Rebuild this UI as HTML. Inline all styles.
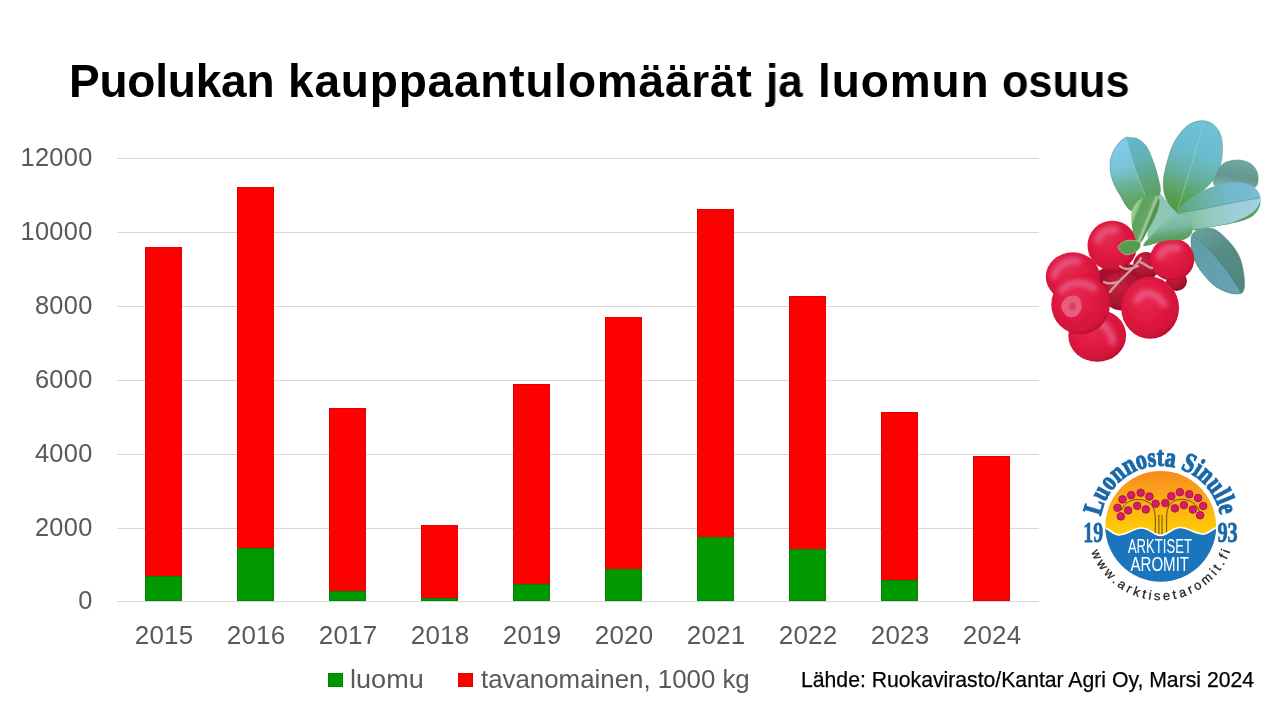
<!DOCTYPE html>
<html><head><meta charset="utf-8"><title>Puolukan kauppaantulomäärät ja luomun osuus</title>
<style>
html,body{margin:0;padding:0;background:#fff;}
body{width:1280px;height:720px;position:relative;overflow:hidden;font-family:"Liberation Sans",sans-serif;}
.abs{position:absolute;}
.yl,.xl,.leg,#src,#title span,svg.abs{will-change:transform;}
#title{position:absolute;left:0;top:53px;font-weight:bold;font-size:46px;line-height:56px;color:#000;white-space:nowrap;}
#title span{position:absolute;top:0;transform-origin:0 0;}
.grid{position:absolute;left:117px;width:922px;height:1.5px;background:#d9d9d9;}
.yl{position:absolute;left:0;width:92.6px;text-align:right;font-size:25.4px;line-height:28px;color:#595959;letter-spacing:0.3px;}
.xl{position:absolute;width:92px;text-align:center;font-size:26px;line-height:28px;color:#595959;top:620.5px;letter-spacing:0.2px;text-indent:0.2px;}
.red{position:absolute;background:#ff0000;width:37px;box-shadow:inset 0 0 0 0.6px rgba(150,0,0,0.55);}
.grn{position:absolute;background:#009900;width:37px;box-shadow:inset 0 0 0 0.6px rgba(0,80,0,0.5);}
.leg{position:absolute;transform-origin:0 0;font-size:25px;line-height:28px;color:#595959;white-space:nowrap;}
#src{position:absolute;left:801px;top:666px;-webkit-text-stroke:0.25px #000;font-size:21.2px;line-height:28px;color:#000;white-space:nowrap;transform-origin:0 0;}
</style></head><body>
<div id="title"><span style="left:69.2px;letter-spacing:-0.218px">Puolukan</span><span style="left:288.4px;letter-spacing:0.819px">kauppaantulomäärät</span><span style="left:766px;transform:scaleX(0.957)">ja</span><span style="left:817.6px;letter-spacing:0.884px">luomun</span><span style="left:1001.5px;transform:scaleX(0.941)">osuus</span></div>

<div class="grid" style="top:157.5px"></div>
<div class="yl" style="top:143.15px">12000</div>
<div class="grid" style="top:231.5px"></div>
<div class="yl" style="top:217.15px">10000</div>
<div class="grid" style="top:305.5px"></div>
<div class="yl" style="top:291.15px">8000</div>
<div class="grid" style="top:379.5px"></div>
<div class="yl" style="top:365.15px">6000</div>
<div class="grid" style="top:453.5px"></div>
<div class="yl" style="top:439.15px">4000</div>
<div class="grid" style="top:527.5px"></div>
<div class="yl" style="top:513.15px">2000</div>
<div class="grid" style="top:600.75px"></div>
<div class="yl" style="top:586.4px">0</div>
<div class="red" style="left:145px;top:247px;height:354px"></div>
<div class="grn" style="left:145px;top:576px;height:25px"></div>
<div class="xl" style="left:117.5px">2015</div>
<div class="red" style="left:237px;top:187px;height:414px"></div>
<div class="grn" style="left:237px;top:547.5px;height:53.5px"></div>
<div class="xl" style="left:209.5px">2016</div>
<div class="red" style="left:329px;top:408px;height:193px"></div>
<div class="grn" style="left:329px;top:590.5px;height:10.5px"></div>
<div class="xl" style="left:301.5px">2017</div>
<div class="red" style="left:421px;top:525px;height:76px"></div>
<div class="grn" style="left:421px;top:597.5px;height:3.5px"></div>
<div class="xl" style="left:393.5px">2018</div>
<div class="red" style="left:513px;top:384px;height:217px"></div>
<div class="grn" style="left:513px;top:583.75px;height:17.25px"></div>
<div class="xl" style="left:485.5px">2019</div>
<div class="red" style="left:605px;top:317px;height:284px"></div>
<div class="grn" style="left:605px;top:568.75px;height:32.25px"></div>
<div class="xl" style="left:577.5px">2020</div>
<div class="red" style="left:697px;top:209px;height:392px"></div>
<div class="grn" style="left:697px;top:537px;height:64px"></div>
<div class="xl" style="left:669.5px">2021</div>
<div class="red" style="left:789px;top:296px;height:305px"></div>
<div class="grn" style="left:789px;top:548.75px;height:52.25px"></div>
<div class="xl" style="left:761.5px">2022</div>
<div class="red" style="left:881px;top:412px;height:189px"></div>
<div class="grn" style="left:881px;top:580px;height:21px"></div>
<div class="xl" style="left:853.5px">2023</div>
<div class="red" style="left:973px;top:456px;height:145px"></div>
<div class="xl" style="left:945.5px">2024</div>
<div class="grn" style="left:328px;top:672.5px;width:15px;height:14.5px"></div>
<div class="leg" style="left:350.2px;top:665px;transform:scaleX(1.083)">luomu</div>
<div class="red" style="left:458px;top:672.5px;width:15px;height:14.5px"></div>
<div class="leg" style="left:481px;top:665px;transform:scaleX(1.034)">tavanomainen, 1000 kg</div>
<div id="src">Lähde: Ruokavirasto/Kantar Agri Oy, Marsi 2024</div>
<svg class="abs" style="left:1030px;top:110px" width="250" height="260" viewBox="1030 110 250 260">
<defs>
<filter id="bl" x="-5%" y="-5%" width="110%" height="110%"><feGaussianBlur stdDeviation="0.55"/></filter>
<filter id="bl2" x="-150%" y="-150%" width="400%" height="400%"><feGaussianBlur stdDeviation="2.6"/></filter>
<radialGradient id="rb" cx="0.42" cy="0.38" r="0.68"><stop offset="0" stop-color="#e8284e"/><stop offset="0.55" stop-color="#de1840"/><stop offset="0.85" stop-color="#cf1238"/><stop offset="1" stop-color="#b00c2c"/></radialGradient>
<radialGradient id="rd" cx="0.4" cy="0.35" r="0.7"><stop offset="0" stop-color="#cc2040"/><stop offset="1" stop-color="#960d28"/></radialGradient>
<linearGradient id="g1a" gradientUnits="userSpaceOnUse" x1="1130" y1="138" x2="1150" y2="206"><stop offset="0" stop-color="#62b6ce"/><stop offset="0.3" stop-color="#64b2b6"/><stop offset="0.6" stop-color="#5fa884"/><stop offset="1" stop-color="#55a050"/></linearGradient>
<linearGradient id="g1b" gradientUnits="userSpaceOnUse" x1="1116" y1="145" x2="1128" y2="205"><stop offset="0" stop-color="#80cbea"/><stop offset="0.4" stop-color="#7ac3d6"/><stop offset="0.75" stop-color="#68ae88"/><stop offset="1" stop-color="#5ea45e"/></linearGradient>
<linearGradient id="g2" gradientUnits="userSpaceOnUse" x1="1205" y1="122" x2="1175" y2="210"><stop offset="0" stop-color="#70c0d8"/><stop offset="0.35" stop-color="#6abccc"/><stop offset="0.6" stop-color="#66b09e"/><stop offset="0.82" stop-color="#5aa25c"/><stop offset="1" stop-color="#54963e"/></linearGradient>
<linearGradient id="g2b" gradientUnits="userSpaceOnUse" x1="1180" y1="150" x2="1215" y2="175"><stop offset="0" stop-color="#6ab4b0"/><stop offset="1" stop-color="#72bacc"/></linearGradient>
<linearGradient id="g3" gradientUnits="userSpaceOnUse" x1="1240" y1="160" x2="1235" y2="188"><stop offset="0" stop-color="#72aaa4"/><stop offset="0.6" stop-color="#64968e"/><stop offset="1" stop-color="#78aeaa"/></linearGradient>
<linearGradient id="g4a" gradientUnits="userSpaceOnUse" x1="1180" y1="205" x2="1258" y2="192"><stop offset="0" stop-color="#5ea878"/><stop offset="0.3" stop-color="#6ab2a6"/><stop offset="0.6" stop-color="#72b8c6"/><stop offset="1" stop-color="#7abcd8"/></linearGradient>
<linearGradient id="g4b" gradientUnits="userSpaceOnUse" x1="1180" y1="220" x2="1260" y2="205"><stop offset="0" stop-color="#7cba8c"/><stop offset="0.3" stop-color="#90c8b8"/><stop offset="0.65" stop-color="#9cced6"/><stop offset="1" stop-color="#a2d0e2"/></linearGradient>
<linearGradient id="g5a" gradientUnits="userSpaceOnUse" x1="1195" y1="235" x2="1240" y2="290"><stop offset="0" stop-color="#5f9ea6"/><stop offset="1" stop-color="#66a2b4"/></linearGradient>
<linearGradient id="g5b" gradientUnits="userSpaceOnUse" x1="1200" y1="230" x2="1245" y2="285"><stop offset="0" stop-color="#66a09e"/><stop offset="0.4" stop-color="#588c86"/><stop offset="1" stop-color="#50867e"/></linearGradient>
<linearGradient id="g6" gradientUnits="userSpaceOnUse" x1="1134" y1="215" x2="1156" y2="224"><stop offset="0" stop-color="#9cc890"/><stop offset="0.12" stop-color="#5fa25e"/><stop offset="0.5" stop-color="#64a664"/><stop offset="0.62" stop-color="#a6d09c"/><stop offset="0.72" stop-color="#4f9050"/><stop offset="0.9" stop-color="#589858"/><stop offset="1" stop-color="#a0cc94"/></linearGradient>
<linearGradient id="g7" gradientUnits="userSpaceOnUse" x1="1172" y1="214" x2="1176" y2="243"><stop offset="0" stop-color="#8cc4b6"/><stop offset="0.45" stop-color="#7ab8a2"/><stop offset="0.78" stop-color="#5fa066"/><stop offset="0.93" stop-color="#5a9c5c"/><stop offset="1" stop-color="#b4d2a4"/></linearGradient>
<clipPath id="c1"><path d="M1124.2,138.3 C1121.7,140.1 1117.4,144.1 1115.0,148.3 C1112.6,152.5 1110.4,158.0 1110.0,163.3 C1109.6,168.6 1110.8,174.7 1112.5,180.0 C1114.2,185.3 1116.8,189.9 1120.0,195.0 C1123.2,200.1 1127.0,209.5 1131.7,210.8 C1136.4,212.1 1143.3,205.9 1148.0,203.0 C1152.7,200.1 1158.3,197.4 1160.0,193.3 C1161.7,189.2 1159.4,183.6 1158.3,178.3 C1157.2,173.0 1155.2,167.0 1153.3,161.7 C1151.4,156.4 1149.2,150.4 1146.7,146.7 C1144.2,142.9 1141.1,140.7 1138.3,139.2 C1135.5,137.7 1132.3,137.7 1130.0,137.5 C1127.7,137.3 1126.7,136.5 1124.2,138.3 Z"/></clipPath>
<clipPath id="c4"><path d="M1176.7,212.5 C1177.2,209.2 1183.0,204.0 1188.3,200.0 C1193.6,196.0 1201.1,191.2 1208.3,188.3 C1215.5,185.4 1224.8,183.1 1231.7,182.5 C1238.7,181.9 1245.4,183.2 1250.0,185.0 C1254.6,186.8 1257.5,190.0 1259.2,193.3 C1260.9,196.6 1261.2,201.1 1260.0,205.0 C1258.8,208.9 1256.4,213.6 1251.7,216.7 C1247.0,219.8 1238.9,221.5 1231.7,223.3 C1224.5,225.1 1214.7,226.4 1208.3,227.5 C1201.9,228.6 1197.2,231.2 1193.3,230.0 C1189.4,228.8 1187.8,222.9 1185.0,220.0 C1182.2,217.1 1176.2,215.8 1176.7,212.5 Z"/></clipPath>
<clipPath id="c5"><path d="M1191.1,238.0 C1191.8,233.3 1194.3,231.5 1198.0,230.0 C1201.7,228.5 1208.3,226.8 1213.5,228.8 C1218.7,230.8 1225.0,237.2 1229.4,242.0 C1233.8,246.8 1237.4,251.6 1239.9,257.8 C1242.4,264.0 1244.0,273.3 1244.4,279.0 C1244.9,284.7 1244.7,289.8 1242.6,292.2 C1240.5,294.6 1236.4,294.4 1232.0,293.5 C1227.6,292.6 1221.0,290.2 1216.2,286.9 C1211.4,283.6 1206.8,278.5 1203.0,273.7 C1199.2,268.9 1195.7,263.9 1193.7,258.0 C1191.7,252.1 1190.4,242.7 1191.1,238.0 Z"/></clipPath>
<clipPath id="c2"><path d="M1176.7,211.7 C1173.8,210.0 1168.0,203.3 1165.8,198.3 C1163.6,193.3 1163.1,187.5 1163.3,181.7 C1163.5,175.9 1164.9,169.8 1166.7,163.3 C1168.5,156.8 1170.7,148.7 1174.0,142.5 C1177.3,136.3 1182.2,129.9 1186.5,126.3 C1190.8,122.7 1195.8,121.3 1200.0,120.8 C1204.2,120.3 1208.4,121.2 1211.7,123.3 C1215.0,125.4 1218.2,129.1 1220.0,133.3 C1221.8,137.5 1222.5,142.7 1222.5,148.3 C1222.5,153.9 1221.8,161.1 1220.0,166.7 C1218.2,172.3 1215.3,177.0 1211.7,181.7 C1208.1,186.4 1203.0,190.6 1198.3,195.0 C1193.6,199.4 1186.9,205.5 1183.3,208.3 C1179.7,211.1 1179.6,213.4 1176.7,211.7 Z"/></clipPath>
</defs>
<g filter="url(#bl)">
<path d="M1213.3,183.3 C1212.8,179.5 1217.8,168.9 1221.7,165.0 C1225.6,161.1 1232.0,160.3 1236.7,160.0 C1241.4,159.7 1246.5,161.1 1250.0,163.3 C1253.5,165.5 1256.5,169.4 1257.5,173.3 C1258.5,177.2 1258.7,184.4 1255.8,186.7 C1252.9,189.0 1245.1,186.8 1240.0,187.0 C1234.9,187.2 1229.5,188.6 1225.0,188.0 C1220.5,187.4 1213.8,187.1 1213.3,183.3 Z" fill="url(#g3)"/>
<path d="M1213.3,183.3 C1212.8,179.5 1217.8,168.9 1221.7,165.0 C1225.6,161.1 1232.0,160.3 1236.7,160.0 C1241.4,159.7 1246.5,161.1 1250.0,163.3 C1253.5,165.5 1256.5,169.4 1257.5,173.3 C1258.5,177.2 1258.7,184.4 1255.8,186.7 C1252.9,189.0 1245.1,186.8 1240.0,187.0 C1234.9,187.2 1229.5,188.6 1225.0,188.0 C1220.5,187.4 1213.8,187.1 1213.3,183.3 Z" fill="none" stroke="#3f8058" stroke-width="0.9" opacity="0.45"/>
<path d="M1158.0,195.0 C1160.7,191.3 1162.7,197.2 1166.0,200.0 C1169.3,202.8 1176.3,207.3 1178.0,212.0 C1179.7,216.7 1179.0,224.0 1176.0,228.0 C1173.0,232.0 1164.7,234.3 1160.0,236.0 C1155.3,237.7 1149.7,240.3 1148.0,238.0 C1146.3,235.7 1148.3,229.2 1150.0,222.0 C1151.7,214.8 1155.3,198.7 1158.0,195.0 Z" fill="#90c6b4"/>
<path d="M1191.1,238.0 C1191.8,233.3 1194.3,231.5 1198.0,230.0 C1201.7,228.5 1208.3,226.8 1213.5,228.8 C1218.7,230.8 1225.0,237.2 1229.4,242.0 C1233.8,246.8 1237.4,251.6 1239.9,257.8 C1242.4,264.0 1244.0,273.3 1244.4,279.0 C1244.9,284.7 1244.7,289.8 1242.6,292.2 C1240.5,294.6 1236.4,294.4 1232.0,293.5 C1227.6,292.6 1221.0,290.2 1216.2,286.9 C1211.4,283.6 1206.8,278.5 1203.0,273.7 C1199.2,268.9 1195.7,263.9 1193.7,258.0 C1191.7,252.1 1190.4,242.7 1191.1,238.0 Z" fill="url(#g5b)"/>
<path clip-path="url(#c5)" d="M1192,234 C1210,248 1228,270 1241,293 L1225,300 L1185,275 Z" fill="url(#g5a)"/>
<path d="M1191.1,238.0 C1191.8,233.3 1194.3,231.5 1198.0,230.0 C1201.7,228.5 1208.3,226.8 1213.5,228.8 C1218.7,230.8 1225.0,237.2 1229.4,242.0 C1233.8,246.8 1237.4,251.6 1239.9,257.8 C1242.4,264.0 1244.0,273.3 1244.4,279.0 C1244.9,284.7 1244.7,289.8 1242.6,292.2 C1240.5,294.6 1236.4,294.4 1232.0,293.5 C1227.6,292.6 1221.0,290.2 1216.2,286.9 C1211.4,283.6 1206.8,278.5 1203.0,273.7 C1199.2,268.9 1195.7,263.9 1193.7,258.0 C1191.7,252.1 1190.4,242.7 1191.1,238.0 Z" fill="none" stroke="#3f8058" stroke-width="0.9" opacity="0.45"/>
<path d="M1124.2,138.3 C1121.7,140.1 1117.4,144.1 1115.0,148.3 C1112.6,152.5 1110.4,158.0 1110.0,163.3 C1109.6,168.6 1110.8,174.7 1112.5,180.0 C1114.2,185.3 1116.8,189.9 1120.0,195.0 C1123.2,200.1 1127.0,209.5 1131.7,210.8 C1136.4,212.1 1143.3,205.9 1148.0,203.0 C1152.7,200.1 1158.3,197.4 1160.0,193.3 C1161.7,189.2 1159.4,183.6 1158.3,178.3 C1157.2,173.0 1155.2,167.0 1153.3,161.7 C1151.4,156.4 1149.2,150.4 1146.7,146.7 C1144.2,142.9 1141.1,140.7 1138.3,139.2 C1135.5,137.7 1132.3,137.7 1130.0,137.5 C1127.7,137.3 1126.7,136.5 1124.2,138.3 Z" fill="url(#g1a)"/>
<path clip-path="url(#c1)" d="M1126,136 C1131,158 1140,185 1150,207 L1125,215 L1100,180 L1105,140 Z" fill="url(#g1b)"/>
<path d="M1124.2,138.3 C1121.7,140.1 1117.4,144.1 1115.0,148.3 C1112.6,152.5 1110.4,158.0 1110.0,163.3 C1109.6,168.6 1110.8,174.7 1112.5,180.0 C1114.2,185.3 1116.8,189.9 1120.0,195.0 C1123.2,200.1 1127.0,209.5 1131.7,210.8 C1136.4,212.1 1143.3,205.9 1148.0,203.0 C1152.7,200.1 1158.3,197.4 1160.0,193.3 C1161.7,189.2 1159.4,183.6 1158.3,178.3 C1157.2,173.0 1155.2,167.0 1153.3,161.7 C1151.4,156.4 1149.2,150.4 1146.7,146.7 C1144.2,142.9 1141.1,140.7 1138.3,139.2 C1135.5,137.7 1132.3,137.7 1130.0,137.5 C1127.7,137.3 1126.7,136.5 1124.2,138.3 Z" fill="none" stroke="#3f8058" stroke-width="0.9" opacity="0.45"/>
<path d="M1176.7,211.7 C1173.8,210.0 1168.0,203.3 1165.8,198.3 C1163.6,193.3 1163.1,187.5 1163.3,181.7 C1163.5,175.9 1164.9,169.8 1166.7,163.3 C1168.5,156.8 1170.7,148.7 1174.0,142.5 C1177.3,136.3 1182.2,129.9 1186.5,126.3 C1190.8,122.7 1195.8,121.3 1200.0,120.8 C1204.2,120.3 1208.4,121.2 1211.7,123.3 C1215.0,125.4 1218.2,129.1 1220.0,133.3 C1221.8,137.5 1222.5,142.7 1222.5,148.3 C1222.5,153.9 1221.8,161.1 1220.0,166.7 C1218.2,172.3 1215.3,177.0 1211.7,181.7 C1208.1,186.4 1203.0,190.6 1198.3,195.0 C1193.6,199.4 1186.9,205.5 1183.3,208.3 C1179.7,211.1 1179.6,213.4 1176.7,211.7 Z" fill="url(#g2)"/>
<path d="M1176.7,211.7 C1173.8,210.0 1168.0,203.3 1165.8,198.3 C1163.6,193.3 1163.1,187.5 1163.3,181.7 C1163.5,175.9 1164.9,169.8 1166.7,163.3 C1168.5,156.8 1170.7,148.7 1174.0,142.5 C1177.3,136.3 1182.2,129.9 1186.5,126.3 C1190.8,122.7 1195.8,121.3 1200.0,120.8 C1204.2,120.3 1208.4,121.2 1211.7,123.3 C1215.0,125.4 1218.2,129.1 1220.0,133.3 C1221.8,137.5 1222.5,142.7 1222.5,148.3 C1222.5,153.9 1221.8,161.1 1220.0,166.7 C1218.2,172.3 1215.3,177.0 1211.7,181.7 C1208.1,186.4 1203.0,190.6 1198.3,195.0 C1193.6,199.4 1186.9,205.5 1183.3,208.3 C1179.7,211.1 1179.6,213.4 1176.7,211.7 Z" fill="none" stroke="#3f8058" stroke-width="0.9" opacity="0.45"/>
<path d="M1176.7,212.5 C1177.2,209.2 1183.0,204.0 1188.3,200.0 C1193.6,196.0 1201.1,191.2 1208.3,188.3 C1215.5,185.4 1224.8,183.1 1231.7,182.5 C1238.7,181.9 1245.4,183.2 1250.0,185.0 C1254.6,186.8 1257.5,190.0 1259.2,193.3 C1260.9,196.6 1261.2,201.1 1260.0,205.0 C1258.8,208.9 1256.4,213.6 1251.7,216.7 C1247.0,219.8 1238.9,221.5 1231.7,223.3 C1224.5,225.1 1214.7,226.4 1208.3,227.5 C1201.9,228.6 1197.2,231.2 1193.3,230.0 C1189.4,228.8 1187.8,222.9 1185.0,220.0 C1182.2,217.1 1176.2,215.8 1176.7,212.5 Z" fill="url(#g4a)"/>
<path clip-path="url(#c4)" d="M1177,213.5 C1205,210 1235,202 1261,198.5 L1265,225 L1190,235 Z" fill="url(#g4b)"/>
<path clip-path="url(#c4)" d="M1261,203 C1258,212 1250,218 1231.7,224 C1220,227 1205,229 1190,231.5" fill="none" stroke="#4f9a54" stroke-width="2.6" opacity="0.9"/>
<g fill="none" stroke-width="0.8" opacity="0.75">
<path d="M1126,139 C1131,158 1140,185 1150,206" stroke="#9ad0c4"/>
<path d="M1203,124 C1196,150 1186,185 1177.5,209" stroke="#9cd4c0"/>
<path d="M1180,212.5 C1205,209 1235,201.5 1259,198" stroke="#5f9f8c"/>
<path d="M1194,236 C1212,250 1230,272 1240,290" stroke="#3f7a74"/>
</g>
<ellipse cx="1124" cy="279" rx="30" ry="15" fill="#a81030"/><ellipse cx="1146" cy="266" rx="13" ry="14" fill="url(#rd)"/><ellipse cx="1121.5" cy="291" rx="20" ry="19.5" fill="url(#rd)"/>
<ellipse cx="1176.5" cy="281" rx="10.5" ry="10" fill="url(#rd)"/>
<ellipse cx="1097.2" cy="335.6" rx="28.9" ry="26.2" fill="url(#rb)"/>
<path d="M1100,322 C1106,326 1112,334 1113,342" fill="none" stroke="#f090c0" stroke-width="7" stroke-linecap="round" opacity="0.48" filter="url(#bl2)"/>
<ellipse cx="1112.3" cy="245.6" rx="24.8" ry="24.9" fill="url(#rb)"/>
<path d="M1098,240 C1100,232 1108,228 1116,230" fill="none" stroke="#f090c0" stroke-width="7" stroke-linecap="round" opacity="0.48" filter="url(#bl2)"/>
<ellipse cx="1172.1" cy="259.3" rx="22.2" ry="21.2" fill="url(#rb)"/>
<path d="M1160,256 C1162,249 1170,246 1178,248" fill="none" stroke="#f090c0" stroke-width="7" stroke-linecap="round" opacity="0.48" filter="url(#bl2)"/>
<ellipse cx="1072.8" cy="276.7" rx="27" ry="24.4" fill="url(#rb)"/>
<path d="M1054,276 C1056,266 1066,260 1078,261" fill="none" stroke="#f090c0" stroke-width="7" stroke-linecap="round" opacity="0.48" filter="url(#bl2)"/>
<g fill="none" stroke="#c8a09c" stroke-width="2.4" stroke-linecap="round">
<path d="M1141,258 C1136,268 1122,276 1110,292"/><path d="M1138,266 C1130,270 1124,270 1120,266"/><path d="M1118,282 C1112,284 1108,284 1104,282"/><path d="M1140,262 C1146,264 1148,268 1152,268"/>
</g>
<ellipse cx="1080.6" cy="304.4" rx="29.3" ry="30" fill="url(#rb)"/>
<path d="M1062,290 C1068,282 1082,280 1094,288" fill="none" stroke="#f090c0" stroke-width="7" stroke-linecap="round" opacity="0.48" filter="url(#bl2)"/>
<ellipse cx="1150.1" cy="307.8" rx="28.9" ry="31" fill="url(#rb)"/>
<path d="M1137,300 C1142,290 1154,290 1164,304" fill="none" stroke="#f090c0" stroke-width="7" stroke-linecap="round" opacity="0.48" filter="url(#bl2)"/>
<path d="M1071,296 C1076,294 1081,298 1081,303 C1083,308 1080,314 1076,316 C1072,319 1066,317 1064,313 C1060,309 1061,303 1064,300 C1066,297 1068,296 1071,296Z" fill="#ea6684" opacity="0.85"/><ellipse cx="1072.5" cy="306.5" rx="3.6" ry="4" fill="#d44464"/>
<path d="M1131.7,211.6 C1132.8,206.3 1136.1,202.7 1139.6,199.8 C1143.1,197.0 1149.5,194.5 1152.8,194.5 C1156.1,194.5 1158.7,196.7 1159.4,199.8 C1160.1,202.9 1158.6,208.2 1156.8,213.0 C1155.0,217.8 1151.7,223.8 1148.8,228.8 C1145.9,233.9 1142.2,242.9 1139.6,243.3 C1137.0,243.7 1134.3,236.7 1133.0,231.4 C1131.7,226.1 1130.6,216.9 1131.7,211.6 Z" fill="url(#g6)"/>
<path d="M1143.6,246.0 C1141.4,244.9 1149.1,238.3 1152.8,234.1 C1156.5,229.9 1161.6,224.2 1166.0,220.9 C1170.4,217.6 1175.2,214.5 1179.2,214.3 C1183.2,214.1 1187.6,216.8 1189.8,219.6 C1192.0,222.4 1193.3,228.1 1192.4,231.4 C1191.5,234.7 1188.9,237.9 1184.5,239.4 C1180.1,240.9 1172.8,239.6 1166.0,240.7 C1159.2,241.8 1145.8,247.1 1143.6,246.0 Z" fill="url(#g7)"/>
<path d="M1118.0,247.3 C1118.0,245.0 1122.8,241.6 1126.4,240.7 C1130.0,239.8 1137.6,240.5 1139.6,242.0 C1141.6,243.5 1140.5,247.8 1138.3,249.9 C1136.1,252.0 1129.8,255.1 1126.4,254.7 C1123.0,254.3 1118.0,249.6 1118.0,247.3 Z" fill="#559a50" stroke="#b4d2a6" stroke-width="0.7"/>
</g></svg>
<svg class="abs" style="left:1070px;top:440px" width="180" height="180" viewBox="1070 440 180 180">
<defs><linearGradient id="sun" x1="0" y1="0" x2="0" y2="1"><stop offset="0" stop-color="#f5821f"/><stop offset="0.45" stop-color="#fbab18"/><stop offset="1" stop-color="#ffd400"/></linearGradient>
<clipPath id="lc"><circle cx="1160.7" cy="526.4" r="55.4"/></clipPath>
<path id="tp" d="M1101.0,516.4 A60.5,60.5 0 0 1 1220.2,515.4"/>
<path id="bp" d="M1091.2,551.7 A74,74 0 0 0 1230.2,551.7"/>
</defs>
<g clip-path="url(#lc)">
<rect x="1100" y="465" width="122" height="75" fill="url(#sun)"/>
<path d="M1104,527.5 C1110,529 1113,534.8 1119,534.8 C1128,534.8 1133,528 1141.5,528 C1150,528 1153,535.3 1160.5,535.3 C1168,535.3 1172,527.5 1180,527.5 C1188,527.5 1195,534 1202.5,534 C1209,534 1212,528.5 1218,527 L1220,590 L1100,590 Z" fill="#1b75bc"/>
<g fill="none" stroke="#6a4e10" stroke-width="1">
<path d="M1121.5,510 C1126,499 1139,497.5 1147,501.5 C1154,505 1155.3,512 1155.3,519 L1155.3,534"/>
<path d="M1199.8,512 C1196,501 1184,497 1175,500.5 C1168,503.5 1166.6,511 1166.6,519 L1166.6,534"/>
<path d="M1158.9,515 L1158.9,535 M1162,515 L1162,535"/>
</g>
<path d="M1104,527.5 C1110,529 1113,534.8 1119,534.8 C1128,534.8 1133,528 1141.5,528 C1150,528 1153,535.3 1160.5,535.3 C1168,535.3 1172,527.5 1180,527.5 C1188,527.5 1195,534 1202.5,534 C1209,534 1212,528.5 1218,527" fill="none" stroke="#fff" stroke-width="1.7"/>
</g>
<circle cx="1122.5" cy="499.4" r="3.8" fill="#d9196b" stroke="#9a1040" stroke-width="0.8"/>
<circle cx="1131.2" cy="495.2" r="3.8" fill="#d9196b" stroke="#9a1040" stroke-width="0.8"/>
<circle cx="1140.7" cy="492.8" r="3.8" fill="#d9196b" stroke="#9a1040" stroke-width="0.8"/>
<circle cx="1149.4" cy="496.5" r="3.8" fill="#d9196b" stroke="#9a1040" stroke-width="0.8"/>
<circle cx="1155.6" cy="503.8" r="3.8" fill="#d9196b" stroke="#9a1040" stroke-width="0.8"/>
<circle cx="1117.5" cy="507.8" r="3.8" fill="#d9196b" stroke="#9a1040" stroke-width="0.8"/>
<circle cx="1128.1" cy="510.4" r="3.8" fill="#d9196b" stroke="#9a1040" stroke-width="0.8"/>
<circle cx="1137.2" cy="505.8" r="3.8" fill="#d9196b" stroke="#9a1040" stroke-width="0.8"/>
<circle cx="1145.8" cy="509.4" r="3.8" fill="#d9196b" stroke="#9a1040" stroke-width="0.8"/>
<circle cx="1120.8" cy="516.4" r="3.8" fill="#d9196b" stroke="#9a1040" stroke-width="0.8"/>
<circle cx="1165.3" cy="503.1" r="3.8" fill="#d9196b" stroke="#9a1040" stroke-width="0.8"/>
<circle cx="1171.3" cy="496.2" r="3.8" fill="#d9196b" stroke="#9a1040" stroke-width="0.8"/>
<circle cx="1179.9" cy="492.2" r="3.8" fill="#d9196b" stroke="#9a1040" stroke-width="0.8"/>
<circle cx="1189.2" cy="494.2" r="3.8" fill="#d9196b" stroke="#9a1040" stroke-width="0.8"/>
<circle cx="1198.1" cy="498.1" r="3.8" fill="#d9196b" stroke="#9a1040" stroke-width="0.8"/>
<circle cx="1203.2" cy="506" r="3.8" fill="#d9196b" stroke="#9a1040" stroke-width="0.8"/>
<circle cx="1174.9" cy="508.4" r="3.8" fill="#d9196b" stroke="#9a1040" stroke-width="0.8"/>
<circle cx="1183.9" cy="505.1" r="3.8" fill="#d9196b" stroke="#9a1040" stroke-width="0.8"/>
<circle cx="1192.8" cy="509.5" r="3.8" fill="#d9196b" stroke="#9a1040" stroke-width="0.8"/>
<circle cx="1200.1" cy="515.3" r="3.8" fill="#d9196b" stroke="#9a1040" stroke-width="0.8"/>
<g fill="#fff" font-family="Liberation Sans, sans-serif" font-size="19.4">
<text x="1127.9" y="553.2" textLength="64" lengthAdjust="spacingAndGlyphs">ARKTISET</text>
<text x="1130.5" y="571.1" textLength="58.5" lengthAdjust="spacingAndGlyphs">AROMIT</text></g>
<g fill="#1b68a8" stroke="#1b68a8" stroke-width="0.8" font-family="Liberation Serif, serif" font-weight="bold" font-size="29.5">
<text x="1083.3" y="541.8" textLength="20" lengthAdjust="spacingAndGlyphs">19</text>
<text x="1217.4" y="541.8" textLength="20.4" lengthAdjust="spacingAndGlyphs">93</text></g>
<text fill="#1b68a8" stroke="#1b68a8" stroke-width="1.1" font-family="Liberation Serif, serif" font-weight="bold" font-size="27.5" textLength="168.9" lengthAdjust="spacingAndGlyphs"><textPath href="#tp" textLength="168.9" lengthAdjust="spacingAndGlyphs">Luonnosta Sinulle</textPath></text>
<text fill="#1a1a1a" font-family="Liberation Sans, sans-serif" font-size="13" stroke="#1a1a1a" stroke-width="0.25" textLength="180.8"><textPath href="#bp" textLength="180.8">www.arktisetaromit.fi</textPath></text>
</svg>
</body></html>
